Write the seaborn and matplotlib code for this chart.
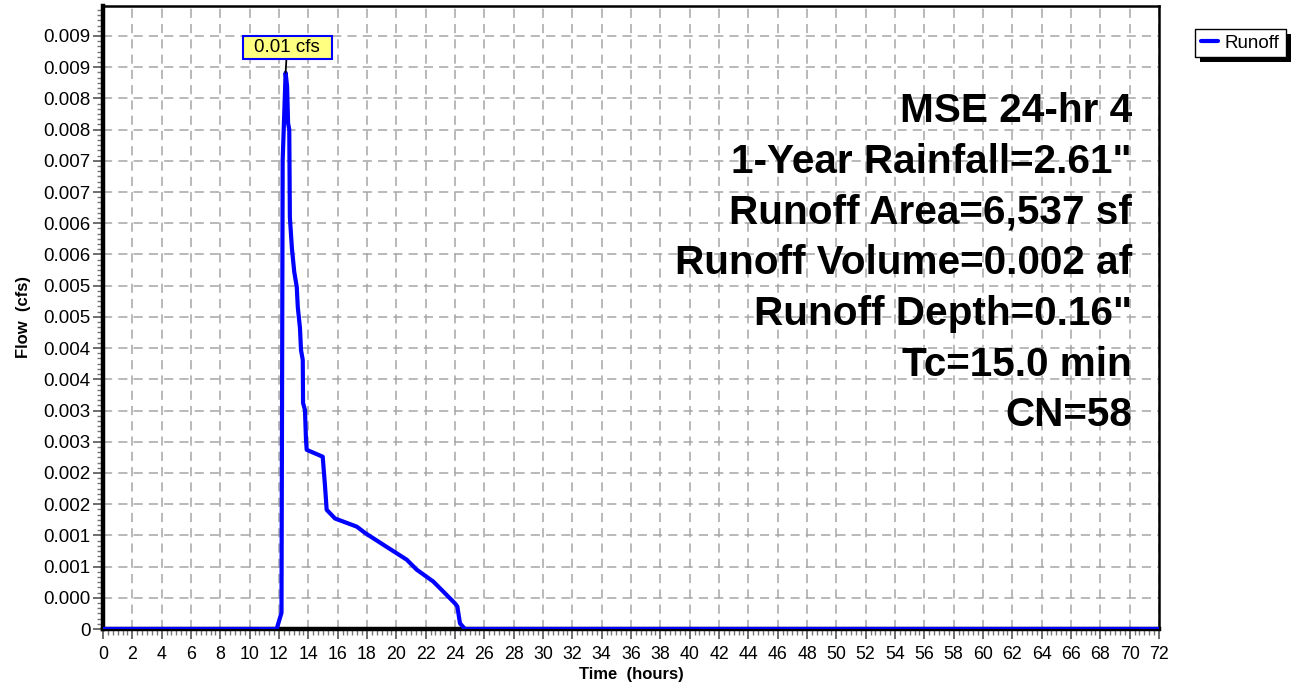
import matplotlib
matplotlib.use("Agg")
import matplotlib.pyplot as plt
from matplotlib.ticker import MultipleLocator, FixedLocator
from matplotlib.patches import Rectangle
from matplotlib.lines import Line2D
import seaborn as sns
import pandas as pd

# Runoff hydrograph (hours, cfs)
time_hr = [0.00, 11.84, 12.17, 12.25, 12.45, 12.55, 12.62, 12.70, 12.74, 12.88,
           13.04, 13.21, 13.28, 13.43, 13.50, 13.62, 13.64, 13.77, 13.84, 13.89,
           14.98, 15.14, 15.25, 15.82, 17.30, 17.86, 19.11, 20.71, 21.39, 22.52,
           23.20, 24.00, 24.16, 24.34, 24.68, 72.00]
flow_cfs = [0.0, 0.0, 0.00026, 0.0075, 0.00891, 0.0087, 0.0081, 0.0080, 0.0066, 0.0061,
            0.00572, 0.00548, 0.00516, 0.00482, 0.00447, 0.00431, 0.00362, 0.00351, 0.00303, 0.00287,
            0.00276, 0.00228, 0.00191, 0.00177, 0.00164, 0.00154, 0.00135, 0.00111, 0.00095, 0.00076,
            0.00060, 0.00041, 0.00036, 0.00009, 0.0, 0.0]

series_name = "Runoff"

y_tick_values = [i * 0.0005 for i in range(20)]
y_tick_labels = ["0", "0.000", "0.001", "0.001", "0.002", "0.002", "0.003", "0.003",
                 "0.004", "0.004", "0.005", "0.005", "0.006", "0.006", "0.007", "0.007",
                 "0.008", "0.008", "0.009", "0.009"]
x_tick_values = list(range(0, 73, 2))

summary_lines = ["MSE 24-hr 4",
                 "1-Year Rainfall=2.61\"",
                 "Runoff Area=6,537 sf",
                 "Runoff Volume=0.002 af",
                 "Runoff Depth=0.16\"",
                 "Tc=15.0 min",
                 "CN=58"]

sns.set_style("white")
plt.rcParams["font.family"] = ["Liberation Sans", "DejaVu Sans"]
plt.rcParams["text.color"] = "black"
plt.rcParams["axes.labelcolor"] = "black"

fig = plt.figure(figsize=(12.94, 6.85), dpi=100)
ax = fig.add_axes([103 / 1294, 56 / 685, 1056 / 1294, 623 / 685])

df = pd.DataFrame({"Time": time_hr, "Flow": flow_cfs})
sns.lineplot(data=df, x="Time", y="Flow", ax=ax, color="#0000FF", linewidth=3,
             estimator=None, sort=False, legend=False, zorder=3)

ax.set_xlim(0, 72)
ax.set_ylim(0, 0.00998)

# ticks
ax.xaxis.set_major_locator(FixedLocator(x_tick_values))
ax.xaxis.set_minor_locator(MultipleLocator(1 / 3))
ax.yaxis.set_major_locator(FixedLocator(y_tick_values))
ax.set_yticklabels(y_tick_labels)
ax.yaxis.set_minor_locator(MultipleLocator(0.0005 / 6))
ax.tick_params(axis="both", which="major", direction="out", length=7, width=1.2,
               color="#555555", labelcolor="black")
ax.tick_params(axis="x", which="major", labelsize=12.8, pad=5)
ax.tick_params(axis="y", which="major", labelsize=13.5, pad=2)
ax.tick_params(axis="both", which="minor", direction="out", length=4, width=1,
               color="#777777")
ax.tick_params(left=True, bottom=True, which="both")

# grid
ax.grid(True, which="major", linestyle=(0, (6, 4)), color="#a6a6a6", linewidth=1.1)
ax.set_axisbelow(True)

for side in ["left", "bottom"]:
    ax.spines[side].set_linewidth(3.2)
    ax.spines[side].set_color("black")
for side in ["top", "right"]:
    ax.spines[side].set_linewidth(1.8)
    ax.spines[side].set_color("black")

ax.set_xlabel("Time  (hours)", fontsize=12, fontweight="bold", labelpad=3)
ax.set_ylabel("Flow  (cfs)", fontsize=12, fontweight="bold", labelpad=9)

# peak flow callout
peak_i = max(range(len(flow_cfs)), key=lambda i: flow_cfs[i])
peak_t, peak_q = time_hr[peak_i], flow_cfs[peak_i]
ax.annotate(f"{peak_q:.2f} cfs", xy=(peak_t, peak_q), xytext=(peak_t + 0.1, 0.00931),
            ha="center", va="center", fontsize=13.5,
            bbox=dict(boxstyle="square,pad=0.62", mutation_aspect=0.25,
                      facecolor="#FFFF80", edgecolor="#0000FF", linewidth=1.5),
            arrowprops=dict(arrowstyle="-", color="black", linewidth=1.3,
                            shrinkA=0, shrinkB=0),
            zorder=5)

# storm / watershed summary
for k, line in enumerate(summary_lines):
    ax.text(0.9744, 0.8138 - k * 0.0814, line, transform=ax.transAxes,
            ha="right", va="baseline", fontsize=29.2, fontweight="bold",
            color="black", zorder=4)

# legend with a solid drop shadow
handle = Line2D([], [], color="#0000FF", linewidth=3)
leg = fig.legend([handle], [series_name], loc="upper left",
                 bbox_to_anchor=(1195 / 1294, 1 - 29 / 685), frameon=True,
                 fancybox=False, framealpha=1, edgecolor="black", fontsize=13.5,
                 borderpad=0.3, handlelength=0.9, handletextpad=0.4, borderaxespad=0)
leg.get_frame().set_linewidth(1.0)
fig.canvas.draw()
bb = leg.get_window_extent()
shadow = Rectangle((bb.x0 + 5, bb.y0 - 5), bb.width, bb.height, transform=None,
                   facecolor="black", edgecolor="none", zorder=leg.get_zorder() - 1)
fig.add_artist(shadow)

fig.savefig("out.png", dpi=100)
